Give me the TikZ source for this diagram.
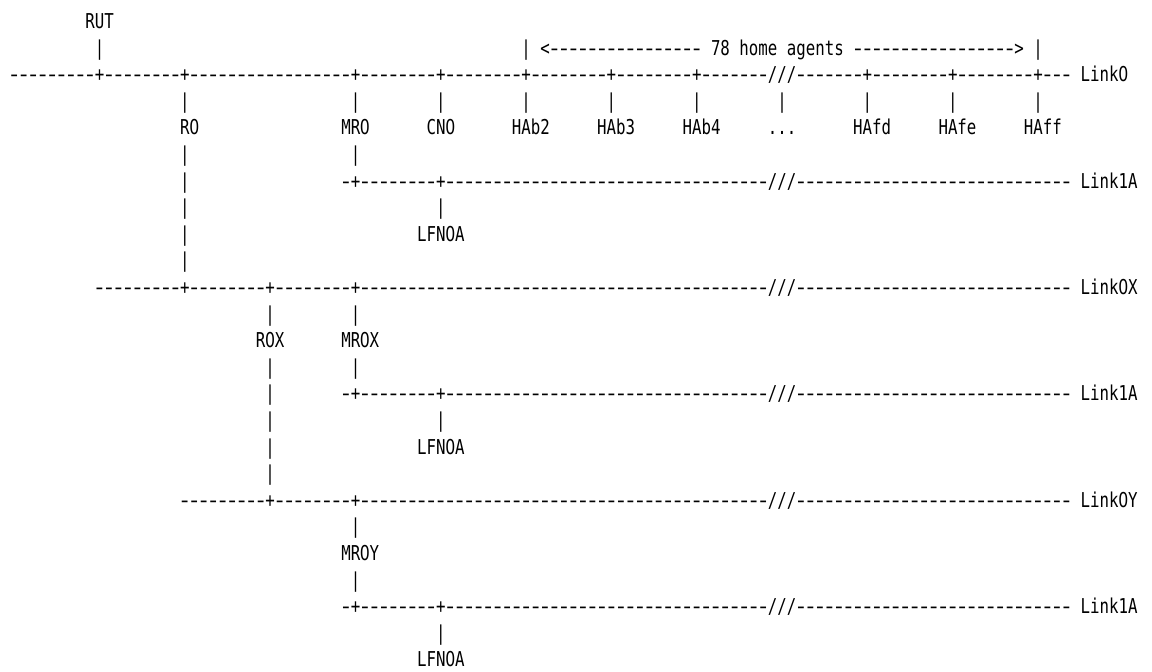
\documentclass[tikz,border=0pt]{standalone}
\usepackage{fontspec}
\setmonofont{DejaVu Sans Mono}
\newfontfamily\plainzerofont{DejaVu Sans}
\usepackage{graphicx}
% one grid cell holding a long hyphen, and a zero without the inner dot
\newcommand\widehyphen{\makebox[9.48pt][c]{\scalebox{1.45}[1]{-}}}
\newcommand\plainzero{\makebox[9.48pt][c]{\plainzerofont 0}}
% a run of n hyphens
\ExplSyntaxOn
\cs_new:Npn \dashrun #1 { \prg_replicate:nn {#1} {\widehyphen} }
\ExplSyntaxOff
% character grid: 9.48 pt per column, 26.6 pt per row
\newcommand\cell[4]{\node[ascii] (#1) at ({(#2)*9.48},{28.4+(#3-1)*26.6}) {\scalebox{1}[1.3]{#4}};}
\tikzset{
  ascii/.style={anchor=base west, inner sep=0pt, outer sep=0pt,
    font=\ttfamily\fontsize{15.75pt}{15.75pt}\selectfont, text=black}
}
\begin{document}
\begin{tikzpicture}[x=1pt,y=-1pt]
\useasboundingbox[fill=white] (0,0) rectangle (1152,672);

% ---- RUT and the home-agent span
\cell{rut}{9}{1}{RUT}
\cell{rutdrop}{10}{2}{|}
\cell{spanleft}{55}{2}{|}
\cell{arrowleft}{57}{2}{<\dashrun{16}}
\cell{hacount}{75}{2}{78 home agents}
\cell{arrowright}{90}{2}{\dashrun{17}>}
\cell{spanright}{109}{2}{|}

% ---- Link0
\cell{linkzero}{1}{3}{\dashrun{9}+\dashrun{8}+\dashrun{17}+\dashrun{8}+\dashrun{8}+\dashrun{8}+\dashrun{8}+\dashrun{7}///\dashrun{7}+\dashrun{8}+\dashrun{8}+\dashrun{3}}
\cell{linkzerolabel}{114}{3}{Link\plainzero}
\foreach \c in {19,37,46,55,64,73,82,91,100,109} {\cell{drop-\c}{\c}{4}{|}}
\cell{rzero}{19}{5}{R\plainzero}
\cell{mrzero}{36}{5}{MR\plainzero}
\cell{cnzero}{45}{5}{CN\plainzero}
\cell{habtwo}{54}{5}{HAb2}
\cell{habthree}{63}{5}{HAb3}
\cell{habfour}{72}{5}{HAb4}
\cell{hadots}{81}{5}{...}
\cell{hafd}{90}{5}{HAfd}
\cell{hafe}{99}{5}{HAfe}
\cell{haff}{108}{5}{HAff}

% ---- Link1A under MR0
\cell{rzerobar-a}{19}{6}{|}
\cell{mrzerobar-a}{37}{6}{|}
\cell{rzerobar-b}{19}{7}{|}
\cell{linkoneA}{36}{7}{\widehyphen+\dashrun{8}+\dashrun{34}///\dashrun{29}}
\cell{linkoneAlabel}{114}{7}{Link1A}
\cell{rzerobar-c}{19}{8}{|}
\cell{lfnbar-a}{46}{8}{|}
\cell{rzerobar-d}{19}{9}{|}
\cell{lfnA}{44}{9}{LFN\plainzero A}
\cell{rzerobar-e}{19}{10}{|}

% ---- Link0X
\cell{linkzeroX}{10}{11}{\dashrun{9}+\dashrun{8}+\dashrun{8}+\dashrun{43}///\dashrun{29}}
\cell{linkzeroXlabel}{114}{11}{Link\plainzero X}
\cell{rzeroXbar-a}{28}{12}{|}
\cell{mrzeroXbar-a}{37}{12}{|}
\cell{rzeroX}{27}{13}{R\plainzero X}
\cell{mrzeroX}{36}{13}{MR\plainzero X}
\cell{rzeroXbar-b}{28}{14}{|}
\cell{mrzeroXbar-b}{37}{14}{|}

% ---- Link1A under MR0X
\cell{rzeroXbar-c}{28}{15}{|}
\cell{linkoneB}{36}{15}{\widehyphen+\dashrun{8}+\dashrun{34}///\dashrun{29}}
\cell{linkoneBlabel}{114}{15}{Link1A}
\cell{rzeroXbar-d}{28}{16}{|}
\cell{lfnbar-b}{46}{16}{|}
\cell{rzeroXbar-e}{28}{17}{|}
\cell{lfnB}{44}{17}{LFN\plainzero A}
\cell{rzeroXbar-f}{28}{18}{|}

% ---- Link0Y
\cell{linkzeroY}{19}{19}{\dashrun{9}+\dashrun{8}+\dashrun{43}///\dashrun{29}}
\cell{linkzeroYlabel}{114}{19}{Link\plainzero Y}
\cell{mrzeroYbar-a}{37}{20}{|}
\cell{mrzeroY}{36}{21}{MR\plainzero Y}
\cell{mrzeroYbar-b}{37}{22}{|}

% ---- Link1A under MR0Y
\cell{linkoneC}{36}{23}{\widehyphen+\dashrun{8}+\dashrun{34}///\dashrun{29}}
\cell{linkoneClabel}{114}{23}{Link1A}
\cell{lfnbar-c}{46}{24}{|}
\cell{lfnC}{44}{25}{LFN\plainzero A}
\end{tikzpicture}
\end{document}
